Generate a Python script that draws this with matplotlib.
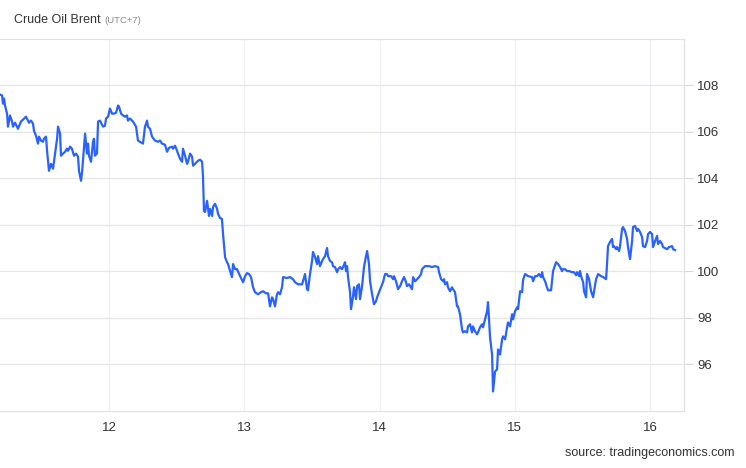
import matplotlib
matplotlib.use("Agg")
import matplotlib.pyplot as plt

plt.rcParams['font.family'] = ['Liberation Sans', 'DejaVu Sans']

# --- Data (day of month, price in USD) ---
days = [
    11.194, 11.209, 11.216, 11.224, 11.231, 11.246, 11.253, 11.268, 11.283, 11.290,
    11.305, 11.312, 11.320, 11.327, 11.349, 11.364, 11.386, 11.401, 11.408, 11.423,
    11.438, 11.445, 11.460, 11.475, 11.482, 11.497, 11.512, 11.519, 11.534, 11.542,
    11.556, 11.571, 11.586, 11.593, 11.616, 11.623, 11.638, 11.645, 11.660, 11.675,
    11.689, 11.697, 11.712, 11.726, 11.741, 11.756, 11.771, 11.778, 11.793, 11.801,
    11.815, 11.823, 11.837, 11.845, 11.852, 11.867, 11.882, 11.889, 11.896, 11.911,
    11.919, 11.933, 11.941, 11.956, 11.970, 11.978, 11.993, 12.007, 12.022, 12.037,
    12.052, 12.067, 12.074, 12.089, 12.104, 12.118, 12.133, 12.140, 12.155, 12.177,
    12.200, 12.214, 12.251, 12.266, 12.281, 12.288, 12.303, 12.318, 12.340, 12.362,
    12.377, 12.392, 12.414, 12.429, 12.444, 12.466, 12.473, 12.488, 12.503, 12.510,
    12.525, 12.540, 12.547, 12.562, 12.577, 12.584, 12.599, 12.614, 12.621, 12.636,
    12.651, 12.658, 12.673, 12.688, 12.695, 12.702, 12.710, 12.725, 12.739, 12.747,
    12.762, 12.769, 12.784, 12.799, 12.806, 12.821, 12.835, 12.843, 12.858, 12.872,
    12.880, 12.895, 12.909, 12.917, 12.932, 12.946, 12.969, 12.983, 12.991, 13.006,
    13.020, 13.035, 13.050, 13.065, 13.079, 13.102, 13.124, 13.139, 13.161, 13.176,
    13.190, 13.205, 13.213, 13.227, 13.242, 13.250, 13.264, 13.279, 13.287, 13.316,
    13.338, 13.360, 13.375, 13.397, 13.427, 13.434, 13.449, 13.464, 13.471, 13.486,
    13.501, 13.508, 13.523, 13.538, 13.545, 13.560, 13.575, 13.582, 13.597, 13.612,
    13.619, 13.634, 13.649, 13.656, 13.671, 13.686, 13.694, 13.708, 13.723, 13.730,
    13.745, 13.752, 13.760, 13.767, 13.782, 13.789, 13.804, 13.811, 13.826, 13.834,
    13.848, 13.856, 13.871, 13.885, 13.900, 13.908, 13.922, 13.930, 13.945, 13.959,
    13.974, 13.982, 13.996, 14.011, 14.026, 14.041, 14.055, 14.063, 14.085, 14.100,
    14.107, 14.122, 14.137, 14.152, 14.166, 14.181, 14.196, 14.203, 14.218, 14.240,
    14.248, 14.263, 14.277, 14.292, 14.307, 14.314, 14.336, 14.366, 14.388, 14.410,
    14.433, 14.440, 14.455, 14.470, 14.477, 14.484, 14.499, 14.506, 14.521, 14.536,
    14.543, 14.558, 14.573, 14.580, 14.595, 14.610, 14.617, 14.632, 14.647, 14.654,
    14.669, 14.684, 14.691, 14.706, 14.721, 14.728, 14.743, 14.758, 14.765, 14.780,
    14.795, 14.802, 14.817, 14.832, 14.839, 14.854, 14.869, 14.876, 14.891, 14.906,
    14.913, 14.928, 14.943, 14.950, 14.965, 14.980, 14.987, 15.002, 15.017, 15.024,
    15.039, 15.054, 15.061, 15.076, 15.098, 15.128, 15.135, 15.150, 15.165, 15.179,
    15.194, 15.202, 15.209, 15.224, 15.238, 15.246, 15.268, 15.275, 15.283, 15.305,
    15.320, 15.335, 15.349, 15.357, 15.372, 15.386, 15.401, 15.423, 15.438, 15.453,
    15.460, 15.475, 15.482, 15.490, 15.505, 15.512, 15.527, 15.534, 15.549, 15.564,
    15.579, 15.586, 15.601, 15.616, 15.638, 15.653, 15.675, 15.682, 15.689, 15.704,
    15.719, 15.726, 15.734, 15.749, 15.756, 15.771, 15.778, 15.793, 15.800, 15.815,
    15.830, 15.837, 15.852, 15.867, 15.874, 15.889, 15.904, 15.911, 15.926, 15.941,
    15.948, 15.963, 15.978, 15.985, 16.000, 16.015, 16.022, 16.037, 16.052, 16.059,
    16.074, 16.089, 16.096, 16.126, 16.140, 16.163, 16.170, 16.185,
]
prices = [
    107.61, 107.57, 107.22, 107.44, 107.14, 106.79, 106.23, 106.71, 106.45, 106.23,
    106.40, 106.32, 106.23, 106.14, 106.45, 106.53, 106.66, 106.49, 106.40, 106.49,
    106.36, 106.06, 105.84, 105.50, 105.80, 105.63, 105.58, 105.71, 105.80, 105.19,
    104.33, 104.63, 104.42, 104.72, 105.71, 106.23, 105.93, 104.98, 105.07, 105.15,
    105.28, 105.19, 105.37, 105.28, 104.98, 105.07, 104.94, 104.33, 103.90, 104.29,
    105.37, 105.93, 105.07, 105.50, 104.98, 104.72, 105.58, 105.71, 104.98, 105.07,
    106.45, 106.49, 106.40, 106.23, 106.27, 106.58, 106.66, 107.01, 106.79, 106.79,
    106.83, 107.14, 107.09, 106.79, 106.71, 106.66, 106.71, 106.49, 106.58, 106.45,
    106.23, 105.63, 105.50, 106.23, 106.49, 106.23, 106.14, 105.80, 105.63, 105.58,
    105.63, 105.50, 105.45, 105.15, 105.32, 105.37, 105.28, 105.41, 105.19, 105.07,
    104.85, 104.72, 105.28, 104.98, 104.63, 104.72, 105.07, 104.94, 104.55, 104.63,
    104.72, 104.76, 104.81, 104.72, 104.07, 102.61, 102.56, 103.04, 102.39, 102.69,
    102.39, 102.78, 102.91, 102.69, 102.48, 102.30, 102.26, 101.61, 100.62, 100.40,
    100.32, 100.02, 99.76, 100.32, 100.10, 100.10, 99.80, 99.63, 99.54, 99.80,
    99.93, 99.89, 99.76, 99.32, 99.11, 99.02, 99.11, 99.15, 99.06, 99.06,
    98.50, 98.89, 98.81, 98.50, 99.02, 99.11, 99.02, 99.32, 99.76, 99.72,
    99.76, 99.67, 99.54, 99.45, 99.45, 99.58, 99.89, 99.24, 99.19, 99.89,
    100.45, 100.84, 100.62, 100.32, 100.66, 100.23, 100.45, 100.53, 100.66, 101.01,
    100.66, 100.45, 100.40, 100.23, 100.19, 99.97, 100.10, 100.19, 100.10, 100.19,
    100.40, 100.02, 100.23, 99.76, 99.11, 98.38, 98.93, 99.32, 98.81, 99.37,
    99.45, 98.81, 99.37, 100.19, 100.66, 100.88, 100.32, 99.58, 99.02, 98.59,
    98.72, 98.89, 99.11, 99.32, 99.54, 99.89, 99.89, 99.80, 99.80, 99.67,
    99.80, 99.58, 99.24, 99.37, 99.58, 99.76, 99.54, 99.37, 99.45, 99.24,
    99.76, 99.58, 99.67, 99.76, 99.89, 100.10, 100.23, 100.23, 100.19, 100.23,
    100.19, 99.97, 99.67, 99.58, 99.67, 99.45, 99.54, 99.32, 99.15, 99.32,
    99.24, 99.11, 98.50, 98.50, 98.16, 97.51, 97.38, 97.43, 97.38, 97.64,
    97.73, 97.38, 97.64, 97.43, 97.30, 97.38, 97.60, 97.73, 97.60, 97.94,
    98.29, 98.68, 97.17, 96.43, 94.84, 95.70, 95.79, 96.65, 96.43, 97.08,
    97.21, 97.08, 97.60, 97.81, 97.64, 98.16, 97.94, 98.29, 98.46, 98.38,
    99.15, 99.11, 99.63, 99.89, 99.80, 99.76, 99.58, 99.80, 99.80, 99.89,
    99.76, 99.97, 99.76, 99.58, 99.32, 99.19, 99.19, 99.58, 100.02, 100.40,
    100.32, 100.19, 100.02, 100.10, 100.10, 100.02, 100.02, 99.97, 99.97, 99.84,
    99.97, 99.80, 100.02, 99.80, 99.54, 99.15, 98.89, 99.89, 99.67, 99.15,
    98.89, 99.15, 99.67, 99.89, 99.80, 99.76, 99.67, 100.32, 101.09, 101.27,
    101.40, 101.05, 101.09, 100.96, 101.05, 100.88, 101.09, 101.83, 101.91, 101.74,
    101.40, 101.05, 100.53, 101.31, 101.91, 101.96, 101.74, 101.83, 101.70, 101.48,
    101.09, 101.05, 101.31, 101.61, 101.70, 101.61, 101.05, 101.31, 101.53, 101.18,
    101.31, 101.18, 101.05, 100.96, 101.05, 101.09, 100.96, 100.92,
]

x_ticks = [12, 13, 14, 15, 16]
y_ticks = [96, 98, 100, 102, 104, 106, 108]

fig = plt.figure(figsize=(7.46, 4.68), dpi=100)
ax = fig.add_axes([0.0, 0.1218, 0.9169, 0.7949])

ax.plot(days, prices, color='#2962ff', linewidth=1.6, solid_joinstyle='round')

ax.set_xlim(11.194, 16.251)
ax.set_ylim(94, 110)
ax.set_xticks(x_ticks)
ax.set_xticklabels([str(t) for t in x_ticks])
ax.set_yticks(y_ticks)

ax.yaxis.tick_right()
ax.tick_params(axis='y', length=6.5, width=0.8, color='#d9d9d9', pad=3,
               labelsize=9.5, labelcolor='#333333')
ax.tick_params(axis='x', length=0, pad=8, labelsize=9.5, labelcolor='#333333')

ax.grid(True, axis='y', color='#e6e6e6', linewidth=0.9)
ax.grid(True, axis='x', color='#edf1f6', linewidth=0.9)
ax.set_axisbelow(True)

ax.spines['left'].set_visible(False)
for side in ['top', 'bottom', 'right']:
    ax.spines[side].set_color('#e3e3e3')
    ax.spines[side].set_linewidth(0.9)

# title and source
fig.text(0.019, 0.958, 'Crude Oil Brent', fontsize=9, color='#333333',
         va='center', ha='left')
fig.text(0.1395, 0.957, '(UTC+7)', fontsize=6.8, color='#8a8a8a',
         va='center', ha='left')
fig.text(0.985, 0.019, 'source: tradingeconomics.com', fontsize=9,
         color='#333333', va='bottom', ha='right')

fig.savefig('out.png', dpi=100, facecolor='white')
